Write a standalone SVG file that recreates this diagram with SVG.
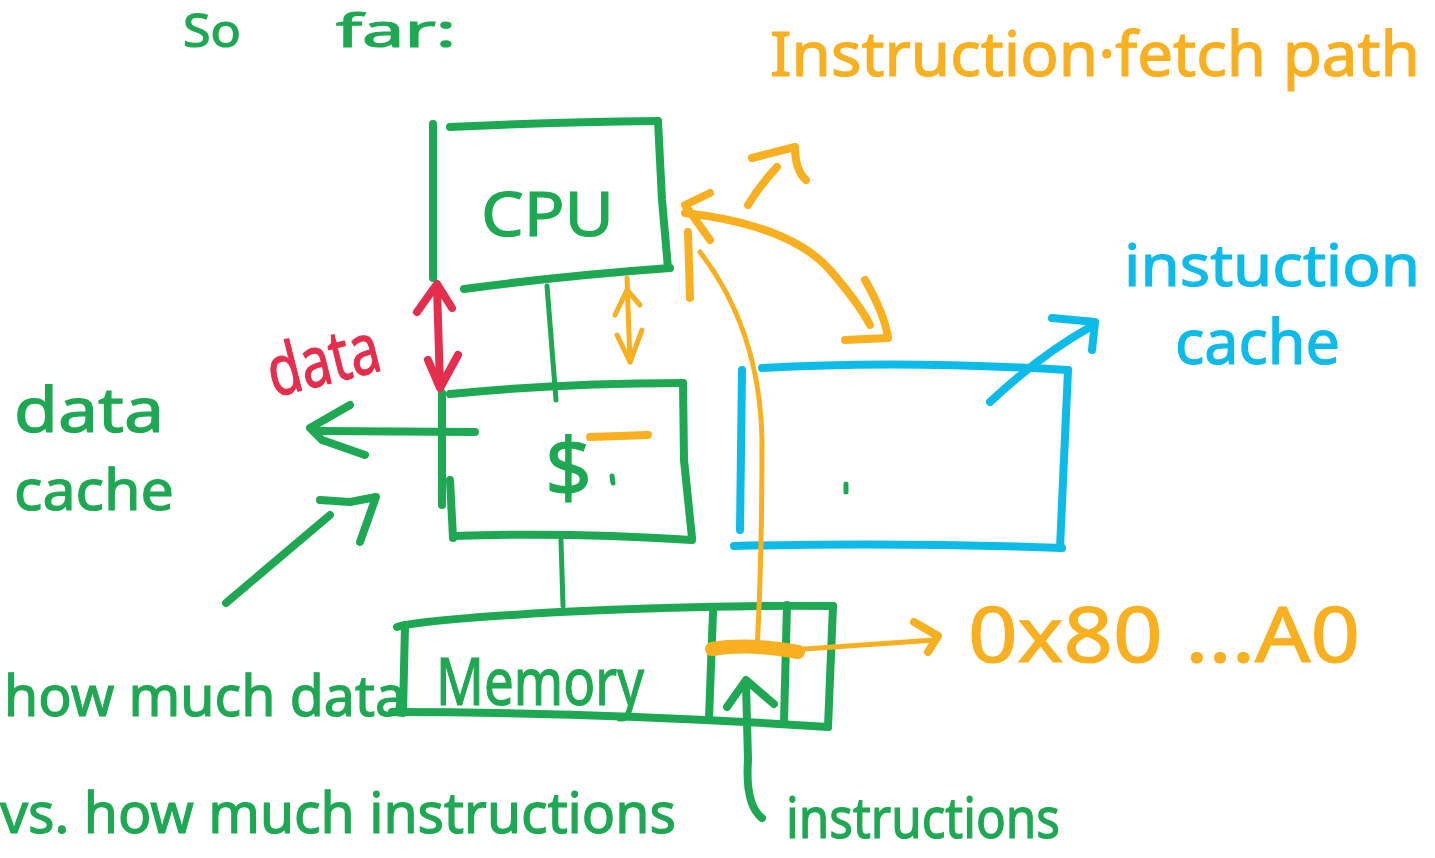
<svg xmlns="http://www.w3.org/2000/svg" width="1435" height="858" viewBox="0 0 1435 858">
  <style>
    .g { stroke: #1ea853; }
    .o { stroke: #f8b020; }
    .b { stroke: #0dbbe9; }
    .r { stroke: #e52e4d; }
    .pen { fill: none; stroke-width: 8; stroke-linecap: round; stroke-linejoin: round; }
    .thin { fill: none; stroke-width: 5; stroke-linecap: round; stroke-linejoin: round; }
    .hand { font-family: "Noto Sans", "Liberation Sans", sans-serif; stroke-width: 1.2; }
    .tg { fill: #1ea853; stroke: #1ea853; }
    .to { fill: #f8b020; stroke: #f8b020; }
    .tb { fill: #0dbbe9; stroke: #0dbbe9; }
    .tr { fill: #e52e4d; stroke: #e52e4d; }
  </style>
  <rect width="1435" height="858" fill="#ffffff"/>

  <!-- heading -->
  <g id="title-left">
    <text class="hand tg" x="183" y="47" font-size="46" textLength="58" lengthAdjust="spacingAndGlyphs">So</text>
    <text class="hand tg" x="336" y="47" font-size="46" textLength="120" lengthAdjust="spacingAndGlyphs">far:</text>
  </g>
  <g id="title-right">
    <text class="hand to" x="770" y="76" font-size="62" textLength="650" lengthAdjust="spacingAndGlyphs">Instruction·fetch path</text>
  </g>

  <!-- CPU -->
  <g id="node-cpu">
    <path class="pen g" d="M433,124 L433,278"/>
    <path class="pen g" d="M450,127 Q550,122 658,121"/>
    <path class="pen g" d="M658,121 L662,200 L668,268"/>
    <path class="pen g" d="M464,289 Q560,276 670,268"/>
    <text class="hand tg" x="481" y="236" font-size="62" textLength="133" lengthAdjust="spacingAndGlyphs">CPU</text>
  </g>

  <!-- data cache ($) -->
  <g id="node-cache">
    <path class="pen g" d="M442,393 L442,505"/>
    <path class="pen g" d="M450,480 L453,538"/>
    <path class="pen g" d="M450,394 Q560,383 683,383"/>
    <path class="pen g" d="M683,383 L684,460 L692,538"/>
    <path class="pen g" d="M453,536 Q570,532 692,540"/>
    <text class="hand tg" x="545" y="497" font-size="82">$</text>
    <path class="pen o" d="M590,437 L648,435"/>
    <path class="thin g" d="M612,476 L613,483"/>
  </g>

  <!-- instruction cache -->
  <g id="node-icache">
    <path class="pen b" d="M762,368 Q900,360 1068,370"/>
    <path class="pen b" d="M1068,370 L1060,548"/>
    <path class="pen b" d="M742,370 L740,530"/>
    <path class="pen b" d="M734,546 Q900,542 1062,548"/>
    <path class="thin g" d="M846,484 L846,492"/>
  </g>

  <!-- Memory -->
  <g id="node-memory">
    <path class="pen g" d="M397,627 Q420,620 560,612 Q700,605 833,606"/>
    <path class="pen g" d="M405,625 L403,713"/>
    <path class="pen g" d="M392,712 Q600,712 828,727"/>
    <path class="pen g" d="M833,606 L828,727"/>
    <path class="pen g" d="M713,612 L709,718"/>
    <path class="pen g" d="M787,605 L784,722"/>
    <text class="hand tg" x="436" y="705" font-size="66" textLength="208" lengthAdjust="spacingAndGlyphs">Memory</text>
  </g>

  <!-- labels -->
  <g id="labels">
    <text class="hand tg" x="14" y="432" font-size="62" textLength="150" lengthAdjust="spacingAndGlyphs">data</text>
    <text class="hand tg" x="14" y="510" font-size="56" textLength="160" lengthAdjust="spacingAndGlyphs">cache</text>
    <text class="hand tg" x="4" y="716" font-size="56" textLength="402" lengthAdjust="spacingAndGlyphs">how much data</text>
    <text class="hand tg" x="0" y="833" font-size="56" textLength="676" lengthAdjust="spacingAndGlyphs">vs. how much instructions</text>
    <text class="hand tg" x="786" y="838" font-size="56" textLength="274" lengthAdjust="spacingAndGlyphs">instructions</text>
    <text class="hand tr" x="266" y="385" font-size="70" textLength="114" lengthAdjust="spacingAndGlyphs" transform="rotate(-14 320 360)">data</text>
    <text class="hand to" x="968" y="662" font-size="76" textLength="392" lengthAdjust="spacingAndGlyphs">0x80 ...A0</text>
    <text class="hand tb" x="1124" y="286" font-size="58" textLength="296" lengthAdjust="spacingAndGlyphs">instuction</text>
    <text class="hand tb" x="1175" y="364" font-size="62" textLength="165" lengthAdjust="spacingAndGlyphs">cache</text>
  </g>

  <!-- connectors -->
  <g id="connectors">
    <!-- bus: CPU to $ to Memory -->
    <path class="thin g" d="M547,286 L556,400"/>
    <path class="thin g" d="M561,540 L563,606"/>

    <!-- red data arrow -->
    <path class="pen r" d="M437,288 L440,385"/>
    <path class="pen r" d="M417,312 L437,284 L452,308"/>
    <path class="pen r" d="M428,360 L440,388 L458,355"/>

    <!-- small orange double arrow -->
    <path class="thin o" d="M627,278 L630,362"/>
    <path class="thin o" d="M615,315 L627,290 L640,305"/>
    <path class="thin o" d="M617,335 L630,362 L642,330"/>

    <!-- orange: CPU to instruction cache -->
    <path class="pen o" d="M685,213 Q790,225 830,270 Q860,305 870,325"/>
    <path class="pen o" d="M710,193 L685,205 L710,240"/>
    <path class="pen o" d="M865,280 Q885,315 888,338 L845,340"/>
    <path class="pen o" d="M688,232 L690,298"/>
    <path class="pen o" d="M748,205 Q760,185 777,167"/>
    <path class="pen o" d="M752,158 L795,147 Q795,170 806,180"/>

    <!-- orange: Memory through I-cache up to CPU -->
    <path class="thin o" d="M757,650 Q762,560 762,440 Q760,330 700,252"/>
    <path class="pen o" d="M712,649 Q750,643 798,652" style="stroke-width:14"/>
    <path class="thin o" d="M790,650 L935,640"/>
    <path class="pen o" d="M914,622 L938,636 L928,652"/>

    <!-- blue arrow to instruction cache label -->
    <path class="pen b" d="M990,402 Q1040,355 1092,326"/>
    <path class="pen b" d="M1052,318 L1095,322 L1092,350"/>

    <!-- data cache label arrow -->
    <path class="pen g" d="M475,432 L318,431"/>
    <path class="pen g" d="M350,405 L310,428 L322,440 L365,455"/>

    <!-- how much data arrow -->
    <path class="pen g" d="M226,603 L330,515"/>
    <path class="pen g" d="M320,500 L350,502 L376,497 L360,542"/>

    <!-- instructions arrow into Memory -->
    <path class="pen g" d="M762,818 Q745,805 748,760 L746,683"/>
    <path class="pen g" d="M727,707 L746,680 L774,704"/>
  </g>
</svg>
